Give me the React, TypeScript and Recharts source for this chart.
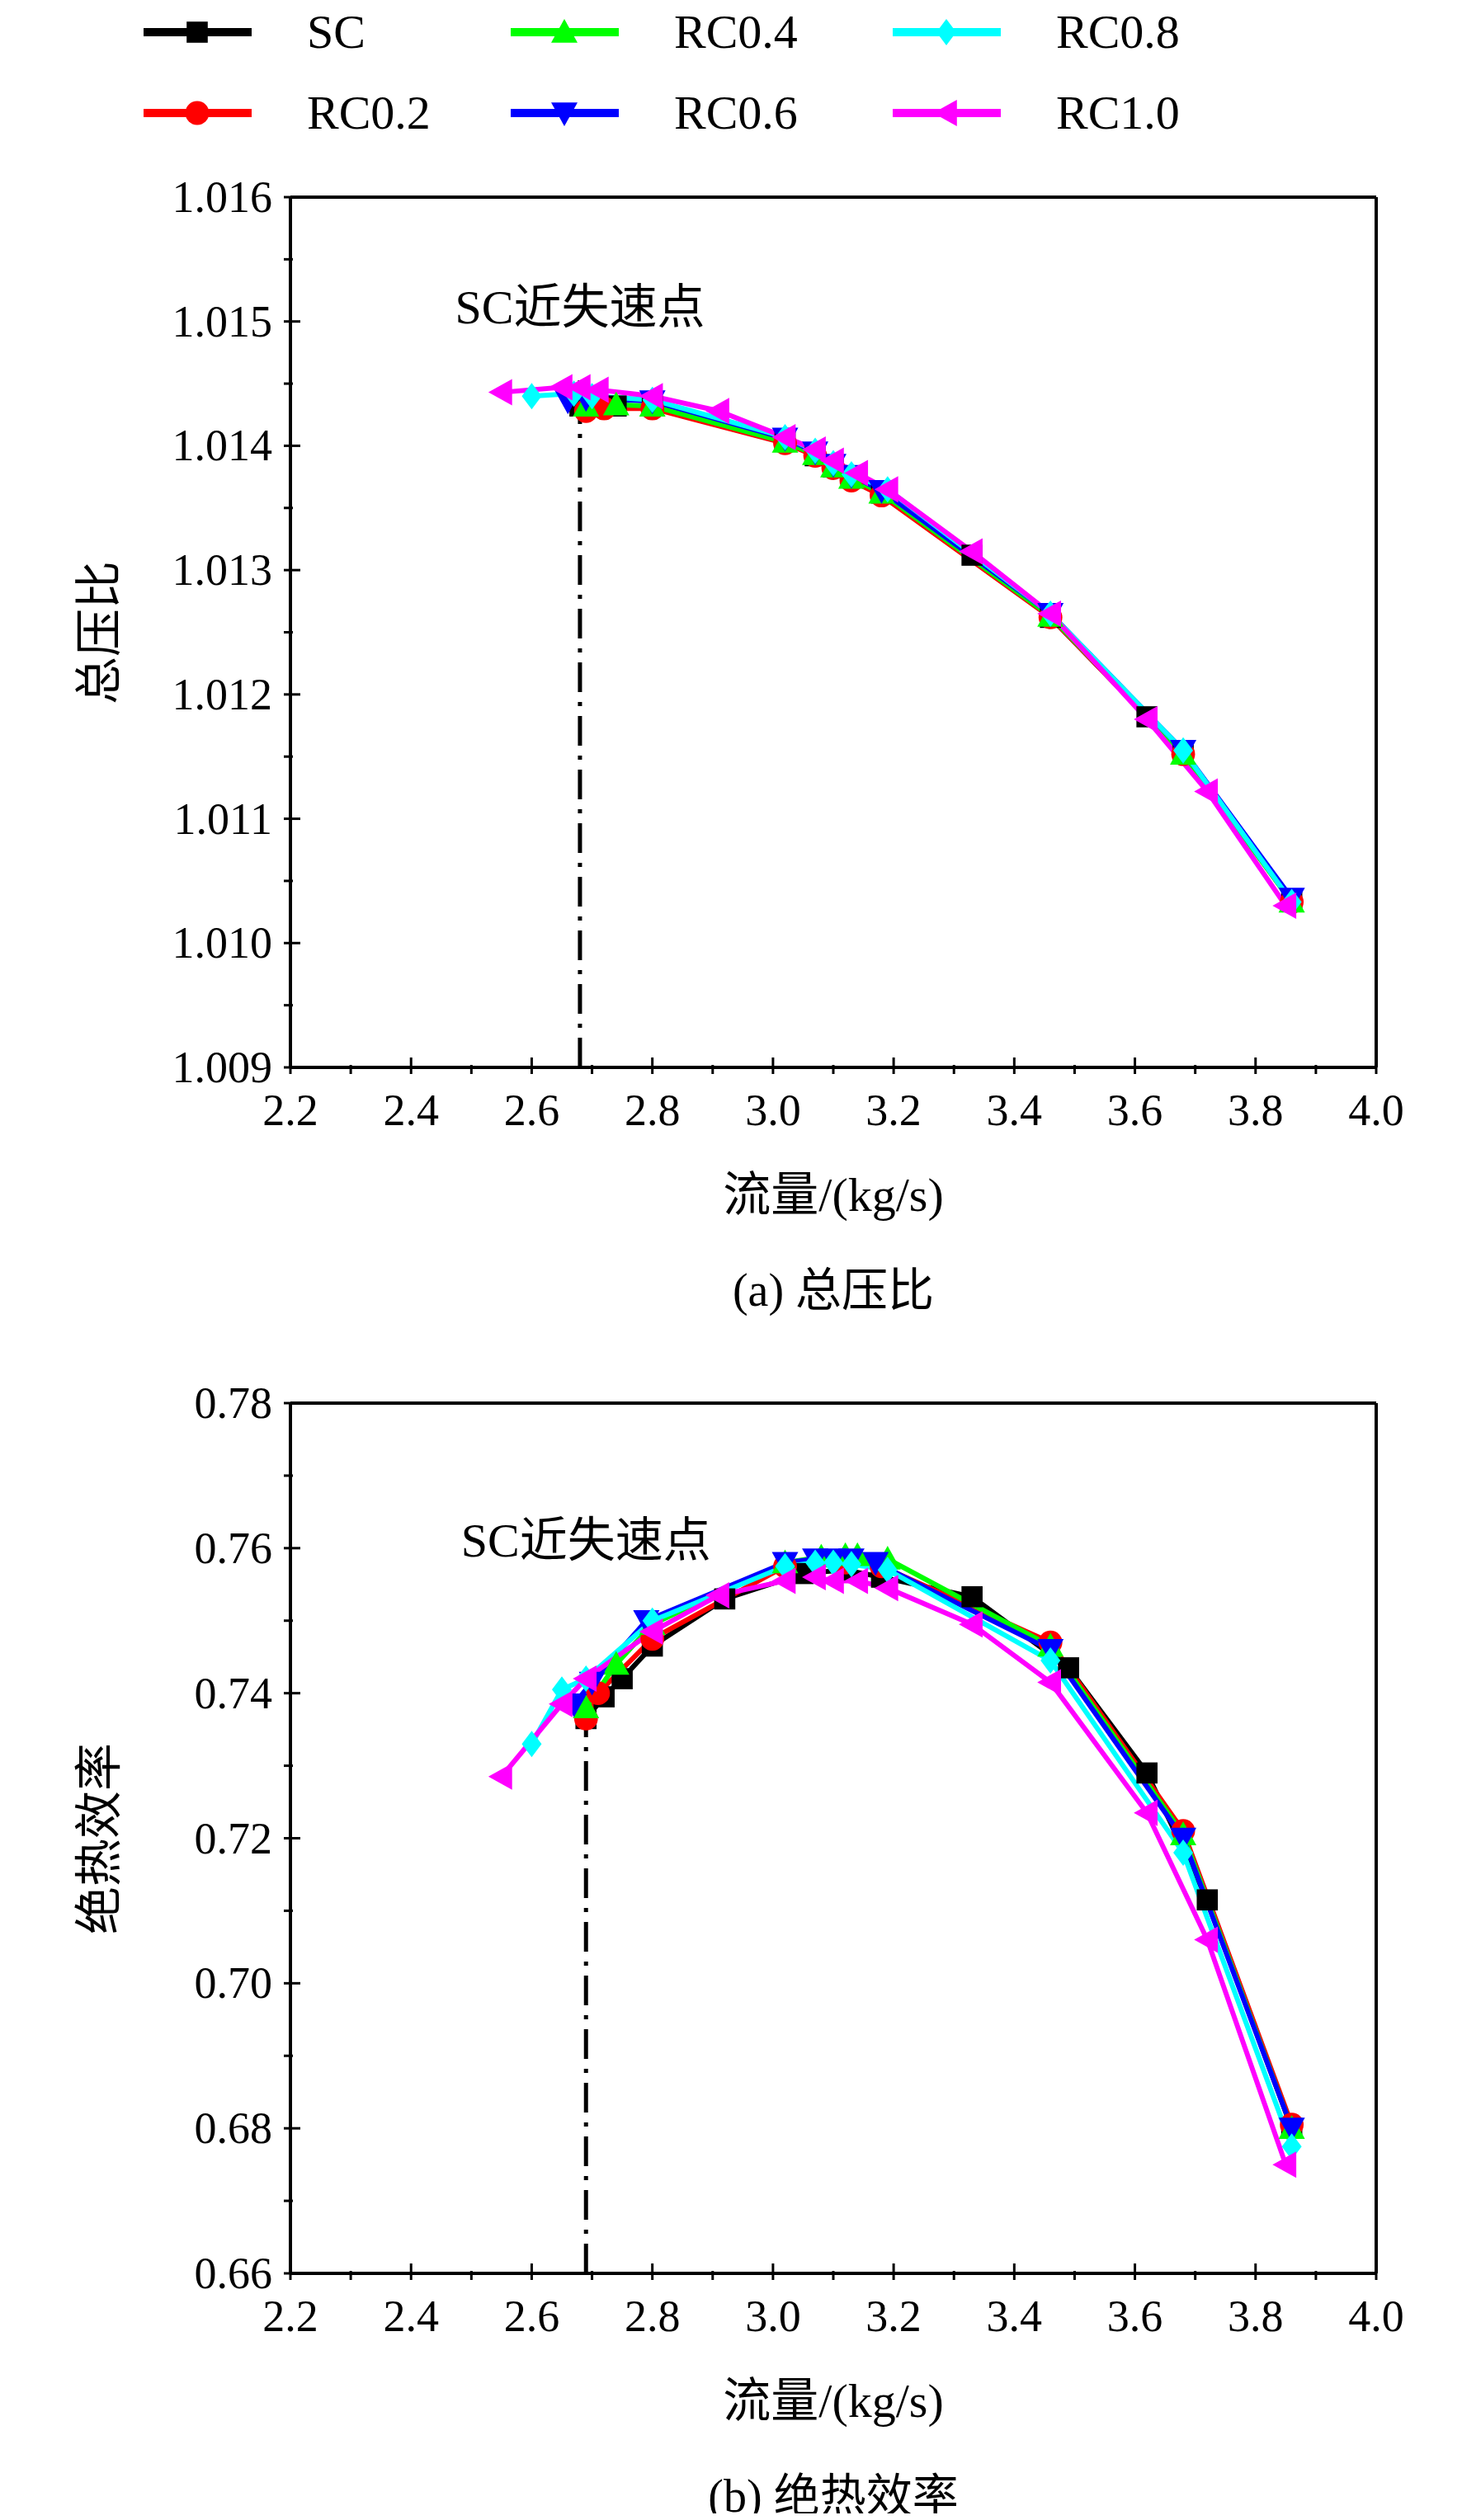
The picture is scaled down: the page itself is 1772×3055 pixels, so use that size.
import { LineChart, Line, XAxis, YAxis, ReferenceLine } from 'recharts'

// ---- (a) total pressure ratio ----
const scFlowA = [2.68, 2.74, 2.80, 3.02, 3.07, 3.10, 3.13, 3.18, 3.33, 3.46, 3.62, 3.68, 3.86]
const scPR = [1.01432, 1.01432, 1.01432, 1.01405, 1.01392, 1.01383, 1.01375, 1.01362, 1.01312, 1.01262, 1.01182, 1.01152, 1.01035]
const rc02FlowA = [2.69, 2.72, 2.80, 3.02, 3.07, 3.10, 3.13, 3.18, 3.46, 3.68, 3.86]
const rc02PR = [1.01428, 1.0143, 1.0143, 1.01402, 1.01392, 1.01382, 1.01372, 1.0136, 1.01262, 1.01152, 1.01033]
const rc04FlowA = [2.69, 2.74, 2.80, 3.02, 3.07, 3.10, 3.13, 3.18, 3.46, 3.68, 3.86]
const rc04PR = [1.01432, 1.01433, 1.01432, 1.01403, 1.01393, 1.01383, 1.01374, 1.01362, 1.01263, 1.01152, 1.01033]
const rc06FlowA = [2.66, 2.69, 2.80, 3.02, 3.07, 3.10, 3.13, 3.18, 3.46, 3.68, 3.86]
const rc06PR = [1.01436, 1.01438, 1.01436, 1.01406, 1.01395, 1.01385, 1.01376, 1.01364, 1.01265, 1.01155, 1.01036]
const rc08FlowA = [2.60, 2.67, 2.70, 2.80, 3.02, 3.07, 3.10, 3.13, 3.19, 3.46, 3.68, 3.86]
const rc08PR = [1.0144, 1.01442, 1.0144, 1.01437, 1.01407, 1.01396, 1.01386, 1.01377, 1.01365, 1.01265, 1.01155, 1.01033]
const rc10FlowA = [2.55, 2.65, 2.68, 2.71, 2.80, 2.91, 3.02, 3.07, 3.10, 3.14, 3.19, 3.33, 3.46, 3.62, 3.72, 3.85]
const rc10PR = [1.01443, 1.01447, 1.01447, 1.01445, 1.0144, 1.01428, 1.01407, 1.01397, 1.01388, 1.01378, 1.01365, 1.01315, 1.01265, 1.0118, 1.01122, 1.0103]

// ---- (b) adiabatic efficiency ----
const scFlowB = [2.69, 2.72, 2.75, 2.80, 2.92, 3.05, 3.12, 3.18, 3.33, 3.49, 3.62, 3.72, 3.86]
const scEff = [0.7365, 0.7395, 0.742, 0.7465, 0.753, 0.7565, 0.757, 0.756, 0.7533, 0.7435, 0.729, 0.7115, 0.68]
const rc02FlowB = [2.69, 2.71, 2.80, 3.02, 3.12, 3.18, 3.46, 3.68, 3.86]
const rc02Eff = [0.7365, 0.740, 0.7475, 0.7575, 0.758, 0.7575, 0.747, 0.721, 0.6805]
const rc04FlowB = [2.69, 2.74, 2.80, 3.02, 3.08, 3.12, 3.14, 3.19, 3.46, 3.68, 3.86]
const rc04Eff = [0.738, 0.744, 0.7495, 0.758, 0.7588, 0.759, 0.759, 0.7585, 0.7465, 0.7205, 0.680]
const rc06FlowB = [2.67, 2.70, 2.79, 3.02, 3.07, 3.10, 3.13, 3.17, 3.46, 3.68, 3.86]
const rc06Eff = [0.7385, 0.7415, 0.750, 0.758, 0.7585, 0.7585, 0.7585, 0.758, 0.746, 0.720, 0.680]
const rc08FlowB = [2.60, 2.65, 2.69, 2.80, 3.02, 3.07, 3.10, 3.13, 3.19, 3.46, 3.68, 3.86]
const rc08Eff = [0.733, 0.7405, 0.742, 0.750, 0.7575, 0.758, 0.758, 0.7578, 0.757, 0.7445, 0.718, 0.6775]
const rc10FlowB = [2.55, 2.65, 2.69, 2.80, 2.91, 3.02, 3.07, 3.10, 3.14, 3.19, 3.33, 3.46, 3.62, 3.72, 3.85]
const rc10Eff = [0.7285, 0.7385, 0.742, 0.7485, 0.7535, 0.7555, 0.756, 0.7555, 0.7555, 0.7545, 0.7495, 0.7415, 0.7235, 0.706, 0.675]

const names = ['SC', 'RC0.2', 'RC0.4', 'RC0.6', 'RC0.8', 'RC1.0']
const colors = ['#000000', '#ff0000', '#00ff00', '#0000ff', '#00ffff', '#ff00ff']
const shapes = ['square', 'circle', 'up', 'down', 'diamond', 'left']

const xTicks = [2.2, 2.3, 2.4, 2.5, 2.6, 2.7, 2.8, 2.9, 3.0, 3.1, 3.2, 3.3, 3.4, 3.5, 3.6, 3.7, 3.8, 3.9, 4.0]
const prTicks = [1.009, 1.0095, 1.010, 1.0105, 1.011, 1.0115, 1.012, 1.0125, 1.013, 1.0135, 1.014, 1.0145, 1.015, 1.0155, 1.016]
const effTicks = [0.66, 0.67, 0.68, 0.69, 0.70, 0.71, 0.72, 0.73, 0.74, 0.75, 0.76, 0.77, 0.78]

const FONT = '"Liberation Serif", "Noto Sans CJK SC", serif'
const S = 16

function Marker({ cx, cy, shape, color }: { cx: number; cy: number; shape: string; color: string }) {
  if (cx == null || cy == null) return null
  const p = (pts: number[][]) => pts.map(q => `${cx + q[0]},${cy + q[1]}`).join(' ')
  switch (shape) {
    case 'square': return <rect x={cx - S * 0.8} y={cy - S * 0.8} width={S * 1.6} height={S * 1.6} fill={color} />
    case 'circle': return <circle cx={cx} cy={cy} r={S * 0.9} fill={color} />
    case 'up': return <polygon points={p([[0, -S], [S, S * 0.8], [-S, S * 0.8]])} fill={color} />
    case 'down': return <polygon points={p([[0, S], [S, -S * 0.8], [-S, -S * 0.8]])} fill={color} />
    case 'diamond': return <polygon points={p([[0, -S], [S * 0.75, 0], [0, S], [-S * 0.75, 0]])} fill={color} />
    default: return <polygon points={p([[-S, 0], [S * 0.8, -S], [S * 0.8, S]])} fill={color} />
  }
}

const XTick = (props: any) => {
  const { x, y, payload } = props
  const v = payload.value
  const major = Math.round(v * 10) % 2 === 0
  return (
    <g>
      <line x1={x} x2={x} y1={y} y2={y - (major ? 20 : 11)} stroke="#000" strokeWidth={3} />
      {major && <text x={x} y={y + 62} textAnchor="middle" fontSize={54} fontFamily={FONT}>{v.toFixed(1)}</text>}
    </g>
  )
}

const makeYTick = (step: number, digits: number) => (props: any) => {
  const { x, y, payload } = props
  const v = payload.value
  const major = Math.round(v / step) % 2 === 0
  return (
    <g>
      <line x1={x} x2={x + (major ? 20 : 11)} y1={y} y2={y} stroke="#000" strokeWidth={3} />
      {major && <text x={x - 14} y={y + 18} textAnchor="end" fontSize={54} fontFamily={FONT}>{v.toFixed(digits)}</text>}
    </g>
  )
}

function Panel({ top, xs, ys, yDomain, yTicks, yTick, stallX, stallTop, labelY, yTitle, caption }: any) {
  const seriesData = xs.map((xa: number[], i: number) => xa.map((x, j) => ({ x, y: ys[i][j] })))
  return (
    <div style={{ position: 'absolute', left: 0, top, width: 1772, height: 1420 }}>
      <LineChart width={1772} height={1195} margin={{ top: 50, right: 104, bottom: 0, left: 202 }}>
        <XAxis type="number" dataKey="x" domain={[2.2, 4.0]} ticks={xTicks} tick={<XTick />} tickLine={false}
          axisLine={{ stroke: '#000', strokeWidth: 4 }} height={90} interval={0} allowDataOverflow />
        <YAxis type="number" domain={yDomain} ticks={yTicks} tick={yTick} tickLine={false} width={150}
          axisLine={{ stroke: '#000', strokeWidth: 4 }} interval={0} allowDataOverflow />
        <ReferenceLine y={yDomain[1]} stroke="#000" strokeWidth={4} ifOverflow="visible" />
        <ReferenceLine x={4.0} stroke="#000" strokeWidth={4} ifOverflow="visible" />
        <ReferenceLine segment={[{ x: stallX, y: yDomain[0] }, { x: stallX, y: stallTop }]} stroke="#000"
          strokeWidth={5} strokeDasharray="36 12 5 12" ifOverflow="visible" />
        <ReferenceLine segment={[{ x: stallX, y: labelY }, { x: stallX, y: labelY }]} stroke="none" ifOverflow="visible"
          label={{ value: 'SC近失速点', position: 'center', fontSize: 58, fill: '#000', fontFamily: FONT }} />
        {seriesData.map((d: any[], i: number) => (
          <Line key={names[i]} data={d} dataKey="y" name={names[i]} stroke={colors[i]} strokeWidth={6}
            isAnimationActive={false} legendType="none"
            dot={(p: any) => <Marker key={p.index} cx={p.cx} cy={p.cy} shape={shapes[i]} color={colors[i]} />} />
        ))}
      </LineChart>
      <div style={{ position: 'absolute', left: 60, top: 50, height: 1055, width: 110, display: 'flex', alignItems: 'center', justifyContent: 'center' }}>
        <div style={{ transform: 'rotate(-90deg)', whiteSpace: 'nowrap', fontSize: 58, fontFamily: FONT }}>{yTitle}</div>
      </div>
      <div style={{ position: 'absolute', left: 352, width: 1316, top: 1225, lineHeight: '70px', textAlign: 'center', fontSize: 58, fontFamily: FONT }}>流量/(kg/s)</div>
      <div style={{ position: 'absolute', left: 352, width: 1316, top: 1340, lineHeight: '70px', textAlign: 'center', fontSize: 56, fontFamily: FONT }}>{caption}</div>
    </div>
  )
}

function Legend() {
  const cols = [172, 617, 1080]
  return (
    <>
      {names.map((n, i) => {
        const left = cols[Math.floor(i / 2)]
        const top = i % 2 === 0 ? 39 : 137
        return (
          <div key={n} style={{ position: 'absolute', left, top: top - 40, height: 80, width: 400 }}>
            <svg width={135} height={80} style={{ position: 'absolute', left: 0, top: 0 }}>
              <line x1={2} x2={133} y1={40} y2={40} stroke={colors[i]} strokeWidth={10} />
              <Marker cx={67} cy={40} shape={shapes[i]} color={colors[i]} />
            </svg>
            <div style={{ position: 'absolute', left: 200, top: 5, lineHeight: '70px', fontSize: 58, fontFamily: FONT, whiteSpace: 'nowrap' }}>{n}</div>
          </div>
        )
      })}
    </>
  )
}

export default function App() {
  return (
    <div style={{ position: 'relative', margin: -8, width: 1772, height: 3055, background: '#fff', overflow: 'hidden' }}>
      <Legend />
      <Panel
        top={189}
        xs={[scFlowA, rc02FlowA, rc04FlowA, rc06FlowA, rc08FlowA, rc10FlowA]}
        ys={[scPR, rc02PR, rc04PR, rc06PR, rc08PR, rc10PR]}
        yDomain={[1.009, 1.016]} yTicks={prTicks} yTick={makeYTick(0.0005, 3)}
        stallX={2.68} stallTop={1.01456} labelY={1.01512}
        yTitle="总压比" caption="(a) 总压比"
      />
      <Panel
        top={1651}
        xs={[scFlowB, rc02FlowB, rc04FlowB, rc06FlowB, rc08FlowB, rc10FlowB]}
        ys={[scEff, rc02Eff, rc04Eff, rc06Eff, rc08Eff, rc10Eff]}
        yDomain={[0.66, 0.78]} yTicks={effTicks} yTick={makeYTick(0.01, 2)}
        stallX={2.69} stallTop={0.7405} labelY={0.7612}
        yTitle="绝热效率" caption="(b) 绝热效率"
      />
    </div>
  )
}
